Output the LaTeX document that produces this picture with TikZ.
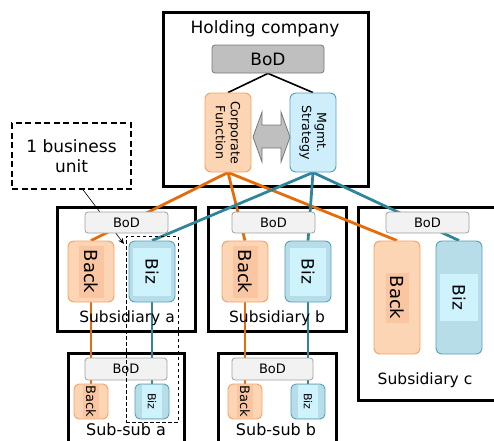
\documentclass[tikz,border=0pt]{standalone}
\usepackage{fontspec}
\setmainfont{DejaVu Sans}
\usetikzlibrary{arrows.meta}

\definecolor{lineorange}{RGB}{228,108,10}
\definecolor{lineteal}{RGB}{49,133,155}
\definecolor{backfill}{RGB}{252,213,181}
\definecolor{backin}{RGB}{250,198,162}
\definecolor{backedge}{RGB}{245,160,100}
\definecolor{bizfill}{RGB}{183,222,232}
\definecolor{bizin}{RGB}{206,243,253}
\definecolor{bizedge}{RGB}{88,158,182}
\definecolor{mgmtfill}{RGB}{206,238,252}
\definecolor{bodfill}{RGB}{242,242,242}
\definecolor{bodedge}{RGB}{160,160,160}
\definecolor{topbodfill}{RGB}{191,191,191}
\definecolor{topbodedge}{RGB}{120,120,120}

\pgfdeclarelayer{frames}
\pgfdeclarelayer{wires}
\pgfsetlayers{frames,wires,main}

\begin{document}
\begin{tikzpicture}[x=1pt,y=-1pt,
		frame/.style={draw=black,line width=3pt,inner sep=0pt},
		bod/.style={draw=bodedge,fill=bodfill,rounded corners=3pt,line width=0.8pt,minimum width=83pt,minimum height=21pt,inner sep=0pt,font=\fontsize{13}{15}\selectfont},
		back/.style={draw=backedge,fill=backfill,rounded corners=6pt,line width=0.9pt,minimum width=46pt,minimum height=61pt,inner sep=0pt},
		biz/.style={draw=bizedge,fill=bizfill,rounded corners=6pt,line width=0.9pt,minimum width=46pt,minimum height=61pt,inner sep=0pt},
		backtxt/.style={rotate=-90,fill=backin,inner sep=0pt,font=\fontsize{18}{20}\selectfont},
		biztxt/.style={rotate=-90,fill=bizin,inner sep=0pt,font=\fontsize{17}{20}\selectfont},
		title/.style={inner sep=0pt,font=\fontsize{15.5}{18}\selectfont},
		orangewire/.style={draw=lineorange,line width=2.8pt},
		tealwire/.style={draw=lineteal,line width=2.8pt}
	]
	\useasboundingbox (0,0) rectangle (494,440);

	% holding company
	\node[title,font=\fontsize{17}{20}\selectfont] (holdname) at (265,29) {Holding company};
	\node[bod,fill=topbodfill,draw=topbodedge,minimum width=112pt,minimum height=28pt,font=\fontsize{17}{20}\selectfont] (topbod) at (268,59) {BoD};
	\node[back,minimum height=79pt] (corp) at (228,132.5) {};
	\node[rotate=-90,align=center,inner sep=0pt,font=\fontsize{12.6}{15}\selectfont] (corptxt) at (corp) {Corporate\\Function};
	\node[biz,fill=mgmtfill,minimum height=79pt] (mgmt) at (313,132.5) {};
	\node[rotate=-90,align=center,inner sep=0pt,font=\fontsize{12.6}{15}\selectfont] (mgmttxt) at (mgmt) {Mgmt.\\Strategy};
	\draw[fill=topbodfill,draw=topbodedge,line width=0.8pt]
		(253,137) -- (262,112) -- (262,125) -- (281,125) -- (281,112) -- (290,137)
		-- (281,162) -- (281,148) -- (262,148) -- (262,162) -- cycle;

	% callout
	\node[draw,dash pattern=on 6pt off 3.5pt,line width=1.4pt,minimum width=119pt,minimum height=66pt,align=center,inner sep=0pt,font=\fontsize{17}{20}\selectfont] (callout) at (71.5,156) {1 business\\unit};

	% subsidiaries
	\node[bod] (boda) at (126.5,222.5) {BoD};
	\node[back] (backa) at (91,271.5) {};
	\node[backtxt,minimum width=52pt,minimum height=25pt] (backatxt) at (backa) {Back};
	\node[biz] (biza) at (152,271.5) {};
	\node[biztxt,minimum width=48pt,minimum height=38pt] (bizatxt) at (biza) {Biz};
	\node[title] (subaname) at (127,318) {Subsidiary a};

	\node[bod] (bodb) at (273.5,222.5) {BoD};
	\node[back] (backb) at (245,271.5) {};
	\node[backtxt,minimum width=52pt,minimum height=25pt] (backbtxt) at (backb) {Back};
	\node[biz] (bizb) at (308,271.5) {};
	\node[biztxt,minimum width=48pt,minimum height=36pt] (bizbtxt) at (bizb) {Biz};
	\node[title] (subbname) at (277,318) {Subsidiary b};

	\node[bod] (bodc) at (427.5,222.5) {BoD};
	\node[back,minimum height=113pt] (backc) at (397,297.5) {};
	\node[backtxt,minimum width=50pt,minimum height=23pt] (backctxt) at (backc) {Back};
	\node[biz,minimum height=113pt] (bizc) at (459,297.5) {};
	\node[biztxt,minimum width=47pt,minimum height=38pt] (bizctxt) at (bizc) {Biz};
	\node[title] (subcname) at (425,380) {Subsidiary c};

	% sub-subsidiaries
	\node[bod,minimum width=82pt,minimum height=22pt] (bodaa) at (126,369) {BoD};
	\node[back,minimum width=34pt,minimum height=35pt,rounded corners=5pt] (backaa) at (91,401.5) {};
	\node[backtxt,minimum width=33pt,minimum height=16pt,font=\fontsize{13}{15}\selectfont] (backaatxt) at (backaa) {Back};
	\node[biz,minimum width=34pt,minimum height=35pt,rounded corners=5pt] (bizaa) at (152,401.5) {};
	\node[biztxt,minimum width=33pt,minimum height=20pt,font=\fontsize{11}{13}\selectfont] (bizaatxt) at (bizaa) {Biz};
	\node[title,font=\fontsize{16}{18}\selectfont] (subaaname) at (126,430) {Sub-sub a};

	\node[bod,minimum width=81pt,minimum height=22pt] (bodbb) at (272.5,369) {BoD};
	\node[back,minimum width=34pt,minimum height=35pt,rounded corners=5pt] (backbb) at (245,401.5) {};
	\node[backtxt,minimum width=33pt,minimum height=16pt,font=\fontsize{13}{15}\selectfont] (backbbtxt) at (backbb) {Back};
	\node[biz,minimum width=34pt,minimum height=35pt,rounded corners=5pt] (bizbb) at (308,401.5) {};
	\node[biztxt,minimum width=33pt,minimum height=20pt,font=\fontsize{11}{13}\selectfont] (bizbbtxt) at (bizbb) {Biz};
	\node[title,font=\fontsize{16}{18}\selectfont] (subbbname) at (276,430) {Sub-sub b};

	% one business unit
	\node[draw,dash pattern=on 3.5pt off 2.5pt,line width=0.7pt,minimum width=52pt,minimum height=186pt,inner sep=0pt] (unit) at (152,329) {};
	\coordinate (unittip) at (124,244);

	% frames
	\begin{pgfonlayer}{frames}
		\node[frame,minimum width=205pt,minimum height=174pt] (hold) at (265.5,99) {};
		\node[frame,minimum width=138pt,minimum height=124pt] (suba) at (126,269) {};
		\node[frame,minimum width=138pt,minimum height=124pt] (subb) at (277,269) {};
		\node[frame,minimum width=147pt,minimum height=193pt] (subc) at (431.5,303.5) {};
		\node[frame,minimum width=116pt,minimum height=97pt] (subaa) at (126,401.5) {};
		\node[frame,minimum width=118pt,minimum height=97pt] (subbb) at (277,401.5) {};
	\end{pgfonlayer}

	% wires
	\begin{pgfonlayer}{wires}
		\draw[line width=1.6pt] (corp.north) -- (topbod.south) -- (mgmt.north);
		\draw[orangewire] (corp.south) -- (backa.north);
		\draw[orangewire] (corp.south) -- (backb.north);
		\draw[orangewire] (corp.south) -- (backc.north);
		\draw[tealwire] (mgmt.south) -- (biza.north);
		\draw[tealwire] (mgmt.south) -- (bizb.north);
		\draw[tealwire] (mgmt.south) -- (bizc.north);
		\draw[orangewire] (backa.south) -- (backaa.north);
		\draw[orangewire] (backb.south) -- (backbb.north);
		\draw[tealwire] (biza.south) -- (bizaa.north);
		\draw[tealwire] (bizb.south) -- (bizbb.north);
		\draw[line width=0.6pt,-{Stealth[length=6pt,width=5pt]}] ([xshift=11.5pt]callout.south) -- (unittip);
	\end{pgfonlayer}
\end{tikzpicture}
\end{document}
